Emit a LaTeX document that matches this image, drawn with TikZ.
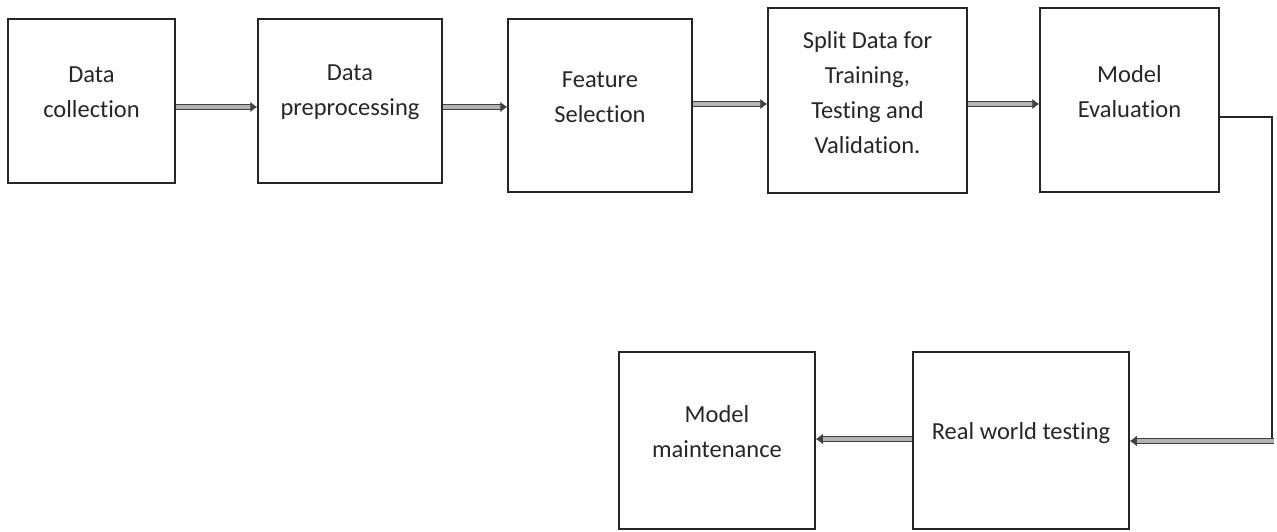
\documentclass[tikz,border=0pt]{standalone}
\usepackage{fontspec}
\setmainfont{Carlito}[Ligatures={NoCommon}]
\usetikzlibrary{arrows.meta}
\begin{document}
\begin{tikzpicture}[x=1pt,y=-1pt,
  box/.style={draw=black!85, line width=1.5pt, rectangle, inner sep=0pt},
  txt/.style={align=center, text=black!85, font=\fontsize{24.5pt}{35pt}\selectfont, inner sep=0pt},
  flow/.style={draw=black!75, line width=1.3pt, double=gray!60, double distance=3.6pt,
               -{Latex[length=7pt,width=11pt]}},
  elbow/.style={draw=black!85, line width=2.8pt}]
\useasboundingbox (0,0) rectangle (1277,531);
% boxes
\node[box, minimum width=167pt, minimum height=164pt] (b1) at (91.5,101) {};
\node[box, minimum width=184pt, minimum height=164pt] (b2) at (350,101) {};
\node[box, minimum width=184pt, minimum height=173pt] (b3) at (600,105.5) {};
\node[box, minimum width=199pt, minimum height=185pt] (b4) at (867.5,100.5) {};
\node[box, minimum width=179pt, minimum height=184pt] (b5) at (1129.5,100) {};
\node[box, minimum width=216pt, minimum height=177pt] (b6) at (1021,440.5) {};
\node[box, minimum width=196pt, minimum height=177pt] (b7) at (717,440.5) {};
% texts
\node[txt] (t1) at (91.5,92) {Data\\collection};
\node[txt] (t2) at (350,92) {Data\\preprocessing};
\node[txt] (t3) at (600,97) {Feature\\Selection};
\node[txt] (t4) at (867.5,93) {Split Data for\\Training,\\Testing and\\Validation.};
\node[txt] (t5) at (1129.5,92) {Model\\Evaluation};
\node[txt] (t6) at (1021,433) {Real world testing};
\node[txt] (t7) at (717,432) {Model\\maintenance};
% connectors
\draw[flow] ([yshift=-6pt]b1.east) -- ([yshift=-6pt]b1.east -| b2.west);
\draw[flow] ([yshift=-6pt]b2.east) -- ([yshift=-6pt]b2.east -| b3.west);
\draw[flow] ([yshift=1.5pt]b3.east) -- ([yshift=1.5pt]b3.east -| b4.west);
\draw[flow] ([yshift=-3.5pt]b4.east) -- ([yshift=-3.5pt]b4.east -| b5.west);
\coordinate (c1) at (1272,117);
\coordinate (c2) at (1272,441);
\draw[elbow] ([yshift=-17pt]b5.east) -- (c1) -- (c2);
\draw[flow] ([xshift=2pt]c2) -- (c2 -| b6.east);
\draw[flow] ([yshift=1.5pt]b6.west) -- ([yshift=1.5pt]b6.west -| b7.east);
\end{tikzpicture}
\end{document}
